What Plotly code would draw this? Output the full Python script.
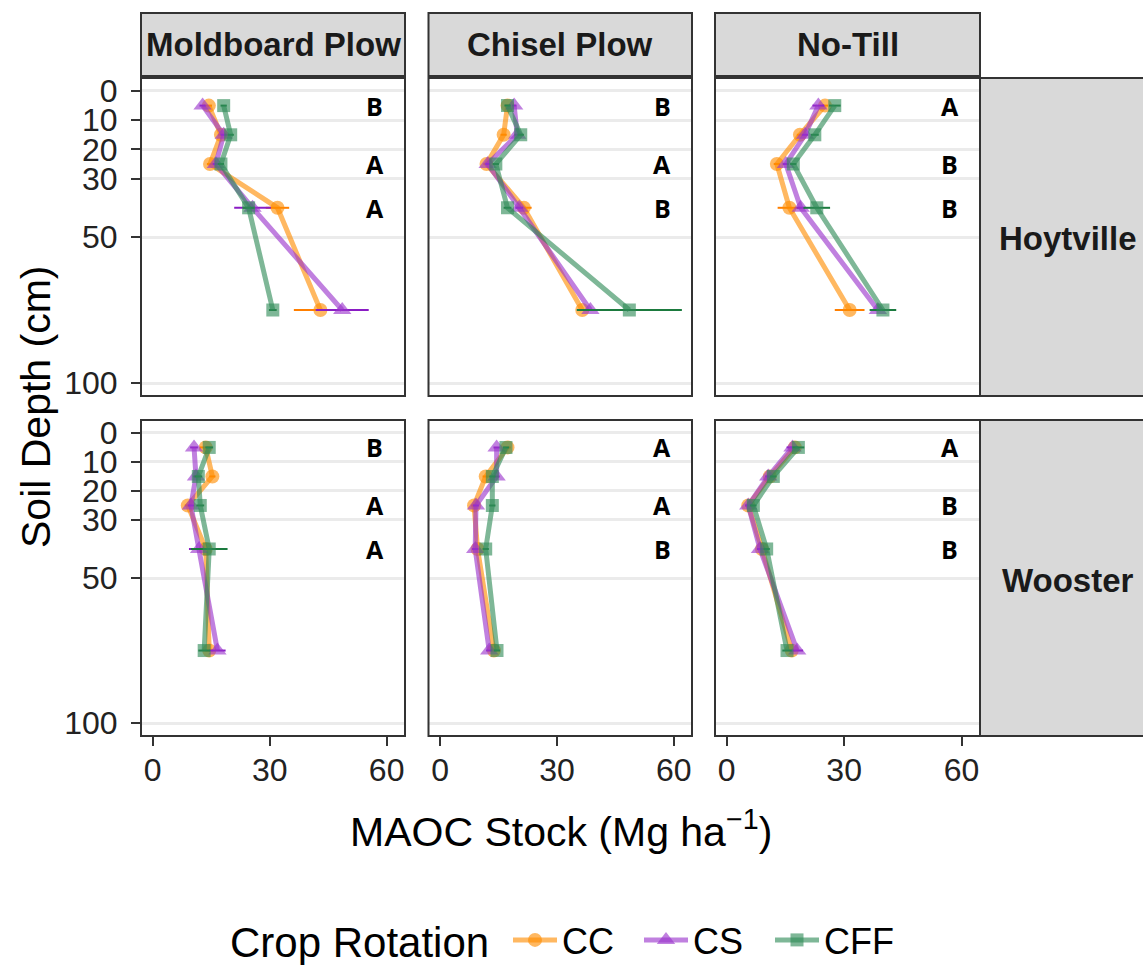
import plotly.graph_objects as go

# ---------------- data ----------------
depths = [5, 15, 25, 40, 75]
sites = ["Hoytville", "Wooster"]
tillages = ["Moldboard Plow", "Chisel Plow", "No-Till"]
rotations = ["CC", "CS", "CFF"]
x_ticks = [0, 30, 60]
y_ticks = [0, 10, 20, 30, 50, 100]

# MAOC stock means (Mg ha-1) by depth
hoy_mp_cc = [14.4, 17.5, 14.7, 32.0, 43.0]
hoy_mp_cs = [12.8, 18.2, 16.2, 25.6, 48.6]
hoy_mp_cff = [18.2, 20.0, 17.5, 24.6, 30.8]
hoy_cp_cc = [17.3, 16.3, 11.9, 21.5, 36.5]
hoy_cp_cs = [19.0, 19.8, 12.2, 20.3, 38.6]
hoy_cp_cff = [17.3, 20.7, 14.3, 17.3, 48.6]
hoy_nt_cc = [25.1, 18.7, 12.8, 16.0, 31.4]
hoy_nt_cs = [23.4, 20.0, 15.1, 18.9, 38.6]
hoy_nt_cff = [27.6, 22.5, 17.0, 23.0, 39.9]
woo_mp_cc = [13.6, 15.3, 9.0, 13.6, 14.5]
woo_mp_cs = [10.6, 11.1, 9.8, 11.9, 16.6]
woo_mp_cff = [14.5, 11.7, 12.2, 14.5, 13.2]
woo_cp_cc = [17.3, 11.7, 8.7, 9.6, 13.8]
woo_cp_cs = [14.5, 14.5, 9.2, 9.0, 12.6]
woo_cp_cff = [16.9, 13.4, 13.4, 11.7, 14.6]
woo_nt_cc = [17.4, 11.0, 5.5, 9.0, 16.6]
woo_nt_cs = [16.8, 10.6, 5.5, 8.5, 18.0]
woo_nt_cff = [18.3, 11.9, 6.8, 10.2, 15.4]

# standard errors (half-width of horizontal error bars)
hoy_mp_cc_se = [0.8, 0.8, 0.8, 3.0, 6.8]
hoy_mp_cs_se = [0.8, 0.8, 0.8, 4.7, 6.8]
hoy_mp_cff_se = [0.8, 0.8, 0.8, 1.5, 1.0]
hoy_cp_cc_se = [0.6, 0.8, 0.8, 2.0, 1.0]
hoy_cp_cs_se = [0.6, 0.8, 0.6, 1.0, 1.0]
hoy_cp_cff_se = [0.8, 0.8, 0.8, 1.0, 13.5]
hoy_nt_cc_se = [0.8, 0.8, 0.8, 3.0, 3.8]
hoy_nt_cs_se = [1.5, 0.8, 0.8, 1.0, 1.5]
hoy_nt_cff_se = [1.5, 1.0, 0.8, 3.4, 3.4]
woo_mp_cc_se = [1.5, 0.8, 0.8, 1.0, 1.0]
woo_mp_cs_se = [1.0, 0.8, 0.8, 2.6, 2.1]
woo_mp_cff_se = [1.0, 1.0, 1.0, 4.7, 1.5]
woo_cp_cc_se = [0.8, 0.8, 0.8, 0.8, 0.8]
woo_cp_cs_se = [0.8, 0.8, 0.8, 0.8, 0.8]
woo_cp_cff_se = [0.8, 0.8, 0.8, 0.8, 0.8]
woo_nt_cc_se = [0.8, 0.8, 0.8, 0.8, 0.8]
woo_nt_cs_se = [1.5, 0.8, 0.8, 0.8, 1.5]
woo_nt_cff_se = [1.5, 0.8, 0.8, 0.8, 1.2]

letter_depths = [5, 25, 40]
letter_x = 57
hoy_mp_letters = ["B", "A", "A"]
hoy_cp_letters = ["B", "A", "B"]
hoy_nt_letters = ["A", "B", "B"]
woo_mp_letters = ["B", "A", "A"]
woo_cp_letters = ["A", "A", "B"]
woo_nt_letters = ["A", "B", "B"]

means = {
    ("Hoytville", "Moldboard Plow"): [hoy_mp_cc, hoy_mp_cs, hoy_mp_cff],
    ("Hoytville", "Chisel Plow"): [hoy_cp_cc, hoy_cp_cs, hoy_cp_cff],
    ("Hoytville", "No-Till"): [hoy_nt_cc, hoy_nt_cs, hoy_nt_cff],
    ("Wooster", "Moldboard Plow"): [woo_mp_cc, woo_mp_cs, woo_mp_cff],
    ("Wooster", "Chisel Plow"): [woo_cp_cc, woo_cp_cs, woo_cp_cff],
    ("Wooster", "No-Till"): [woo_nt_cc, woo_nt_cs, woo_nt_cff],
}
ses = {
    ("Hoytville", "Moldboard Plow"): [hoy_mp_cc_se, hoy_mp_cs_se, hoy_mp_cff_se],
    ("Hoytville", "Chisel Plow"): [hoy_cp_cc_se, hoy_cp_cs_se, hoy_cp_cff_se],
    ("Hoytville", "No-Till"): [hoy_nt_cc_se, hoy_nt_cs_se, hoy_nt_cff_se],
    ("Wooster", "Moldboard Plow"): [woo_mp_cc_se, woo_mp_cs_se, woo_mp_cff_se],
    ("Wooster", "Chisel Plow"): [woo_cp_cc_se, woo_cp_cs_se, woo_cp_cff_se],
    ("Wooster", "No-Till"): [woo_nt_cc_se, woo_nt_cs_se, woo_nt_cff_se],
}
letters = {
    ("Hoytville", "Moldboard Plow"): hoy_mp_letters,
    ("Hoytville", "Chisel Plow"): hoy_cp_letters,
    ("Hoytville", "No-Till"): hoy_nt_letters,
    ("Wooster", "Moldboard Plow"): woo_mp_letters,
    ("Wooster", "Chisel Plow"): woo_cp_letters,
    ("Wooster", "No-Till"): woo_nt_letters,
}

# ---------------- style ----------------
W, H = 1143, 965
line_cols = ["rgba(255,140,0,0.62)", "rgba(153,50,204,0.62)", "rgba(46,139,87,0.62)"]
err_cols = ["#FF7F00", "#8A1CC4", "#1B7A3E"]
symbols = ["circle", "triangle-up", "square"]
msizes = [14, 16, 13]
FONT = "Liberation Sans, Arial, sans-serif"
DARK = "#333333"

col_px = [(141, 405), (428.5, 692), (715, 980)]
row_px = [(78, 396), (420, 736)]
x_range = [-3.0, 64.7]
y_range = [104.45, -4.45]


def fx(px):
    return px / W


def fy(py):
    return 1 - py / H


fig = go.Figure()
shapes = []
annotations = []

for r, site in enumerate(sites):
    for c, till in enumerate(tillages):
        k = r * 3 + c + 1
        xa = "x" if k == 1 else f"x{k}"
        ya = "y" if k == 1 else f"y{k}"
        xl = "xaxis" if k == 1 else f"xaxis{k}"
        yl = "yaxis" if k == 1 else f"yaxis{k}"
        x0, x1 = col_px[c]
        y0, y1 = row_px[r]
        fig.layout[xl] = dict(
            domain=[fx(x0), fx(x1)], range=x_range, anchor=ya,
            showgrid=False, zeroline=False, tickvals=x_ticks,
            showticklabels=(r == 1), ticks="outside" if r == 1 else "",
            ticklen=9, tickwidth=2, tickcolor=DARK,
            tickfont=dict(family=FONT, size=32, color="#222222"),
            showline=False, ticklabelstandoff=-3, automargin=False,
        )
        fig.layout[yl] = dict(
            domain=[fy(y1), fy(y0)], range=y_range, anchor=xa,
            showgrid=True, gridcolor="#EBEBEB", gridwidth=2.5,
            zeroline=False, tickvals=y_ticks,
            showticklabels=(c == 0), ticks="outside" if c == 0 else "",
            ticklen=9, tickwidth=2, tickcolor=DARK,
            tickfont=dict(family=FONT, size=32, color="#222222"),
            showline=False, ticklabelstandoff=7, automargin=False,
        )
        for i, rot in enumerate(rotations):
            fig.add_trace(go.Scatter(
                x=means[(site, till)][i], y=depths,
                mode="lines+markers", name=rot, legendgroup=rot,
                showlegend=(k == 1), xaxis=xa, yaxis=ya,
                line=dict(color=line_cols[i], width=5),
                marker=dict(symbol=symbols[i], size=msizes[i], color=line_cols[i],
                            line=dict(width=0)),
                error_x=dict(type="data", array=ses[(site, till)][i], symmetric=True,
                             color=err_cols[i], thickness=2, width=0),
            ))
        for d, letter in zip(letter_depths, letters[(site, till)]):
            annotations.append(dict(
                x=letter_x, y=d, xref=xa, yref=ya, text=f"<b>{letter}</b>",
                xanchor="center", yanchor="middle",
                showarrow=False, font=dict(family="Open Sans, sans-serif", size=25, color="black"),
            ))
        # panel border
        shapes.append(dict(type="rect", xref="paper", yref="paper",
                           x0=fx(x0), x1=fx(x1), y0=fy(y1), y1=fy(y0),
                           line=dict(color=DARK, width=2), fillcolor="rgba(0,0,0,0)", layer="above"))

# top strips
for c, till in enumerate(tillages):
    x0, x1 = col_px[c]
    shapes.append(dict(type="rect", xref="paper", yref="paper",
                       x0=fx(x0), x1=fx(x1), y0=fy(76), y1=fy(13),
                       line=dict(color=DARK, width=2), fillcolor="#D9D9D9", layer="below"))
    annotations.append(dict(x=fx((x0 + x1) / 2), y=fy(44), xref="paper", yref="paper",
                            xanchor="center", yanchor="middle",
                            text=f"<b>{till}</b>", showarrow=False,
                            font=dict(family=FONT, size=33, color="#1A1A1A")))
# right strips
for r, site in enumerate(sites):
    y0, y1 = row_px[r]
    shapes.append(dict(type="rect", xref="paper", yref="paper",
                       x0=fx(980), x1=fx(1170), y0=fy(y1), y1=fy(y0),
                       line=dict(color=DARK, width=2), fillcolor="#D9D9D9", layer="below"))
    annotations.append(dict(x=fx(1068), y=fy((y0 + y1) / 2 + 2), xref="paper", yref="paper",
                            xanchor="center", yanchor="middle",
                            text=f"<b>{site}</b>", showarrow=False,
                            font=dict(family=FONT, size=33, color="#1A1A1A")))

# axis titles
annotations.append(dict(x=fx(561), y=fy(829), xref="paper", yref="paper",
                        xanchor="center", yanchor="middle",
                        text="MAOC Stock (Mg ha<sup>\u22121</sup>)", showarrow=False,
                        font=dict(family=FONT, size=41, color="black")))
annotations.append(dict(x=fx(36), y=fy(407), xref="paper", yref="paper",
                        xanchor="center", yanchor="middle",
                        text="Soil Depth (cm)", showarrow=False, textangle=-90,
                        font=dict(family=FONT, size=41, color="black")))
# legend title
annotations.append(dict(x=fx(228), y=fy(942), xref="paper", yref="paper",
                        xanchor="left", yanchor="middle",
                        text="Crop Rotation", showarrow=False,
                        font=dict(family=FONT, size=42, color="black")))

fig.update_layout(
    width=W, height=H, margin=dict(l=0, r=0, t=0, b=0, autoexpand=False),
    paper_bgcolor="white", plot_bgcolor="white",
    shapes=shapes, annotations=annotations,
    legend=dict(orientation="h", x=fx(508), xanchor="left", y=fy(940), yanchor="middle",
                font=dict(family=FONT, size=36, color="black"),
                bgcolor="rgba(0,0,0,0)", itemwidth=44,
                entrywidth=72, entrywidthmode="pixels"),
)

fig.write_html("out.html", config={"displayModeBar": False},
               post_script="document.body.style.margin='0px';document.body.style.overflow='hidden';")
